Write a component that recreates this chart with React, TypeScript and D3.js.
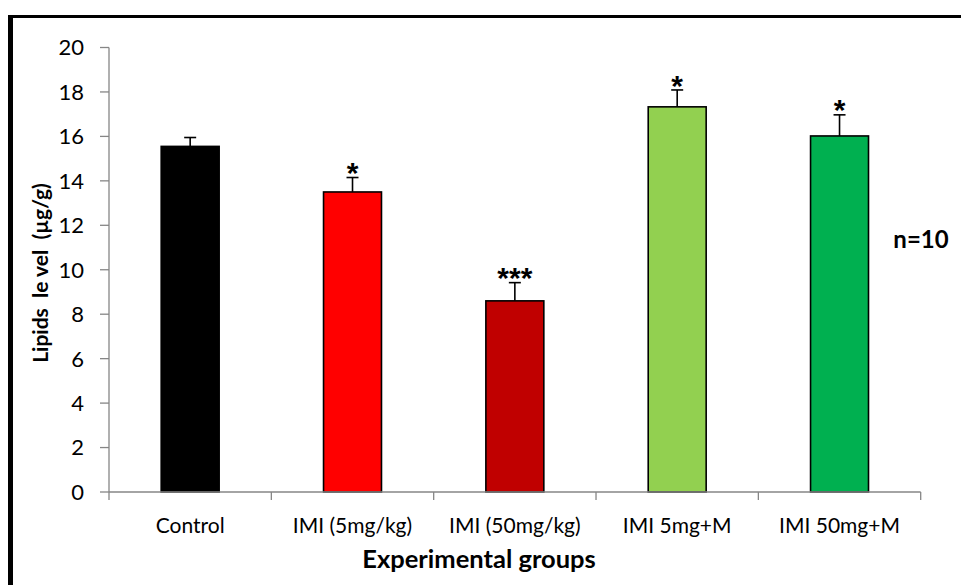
import React from "react";
import * as d3 from "d3";

const categories = ["Control", "IMI (5mg/kg)", "IMI (50mg/kg)", "IMI 5mg+M", "IMI 50mg+M"];
const means = [15.55, 13.5, 8.6, 17.33, 16.02];
const errors = [0.4, 0.65, 0.82, 0.76, 0.95];
const stars = ["", "*", "***", "*", "*"];
const colors = ["#000000", "#FF0000", "#C00000", "#92D050", "#00B050"];
const yTicks = [0, 2, 4, 6, 8, 10, 12, 14, 16, 18, 20];

const W = 961;
const H = 585;
const FONT = "Lato, 'Open Sans', sans-serif";

export default function App() {
  const y = d3.scaleLinear().domain([0, 20]).range([492, 47.5]);
  const x = d3.scaleBand<string>().domain(categories).range([109, 920.7]).padding(0);
  const bw = x.bandwidth() * 0.357;
  const axisColor = "#868686";
  return (
    <svg width={W} height={H} style={{ position: "absolute", left: 0, top: 0, background: "#fff" }}>
      <rect x={0} y={0} width={W} height={H} fill="#fff" />
      {/* frame */}
      <line x1={8} x2={W} y1={16.5} y2={16.5} stroke="#000" strokeWidth={3} />
      <line x1={10.5} x2={10.5} y1={15} y2={H} stroke="#000" strokeWidth={5} />
      {/* bars */}
      {categories.map((c, i) => {
        const cx = (x(c) as number) + x.bandwidth() / 2;
        return (
          <g key={c}>
            <line x1={cx} x2={cx} y1={y(means[i])} y2={y(means[i] + errors[i])} stroke="#000" strokeWidth={1.6} />
            <line x1={cx - 6} x2={cx + 6} y1={y(means[i] + errors[i])} y2={y(means[i] + errors[i])} stroke="#000" strokeWidth={1.6} />
            <rect x={cx - bw / 2} y={y(means[i])} width={bw} height={y(0) - y(means[i])} fill={colors[i]} stroke="#000" strokeWidth={1.6} />
            {stars[i] && (
              <text x={cx} y={y(means[i] + errors[i]) - 13} dy="0.62em" textAnchor="middle" fontFamily="'Liberation Sans', Arial, sans-serif" fontWeight="bold" fontSize={30} fill="#000">
                {stars[i]}
              </text>
            )}
          </g>
        );
      })}
      {/* y axis */}
      <line x1={109} x2={109} y1={y(20)} y2={y(0)} stroke={axisColor} strokeWidth={1.3} />
      {yTicks.map((t) => (
        <g key={t}>
          <line x1={100} x2={109} y1={y(t)} y2={y(t)} stroke={axisColor} strokeWidth={1.3} />
          <text x={84} y={y(t)} dy="0.36em" textAnchor="end" fontFamily={FONT} fontSize={22} fill="#000">
            {t}
          </text>
        </g>
      ))}
      {/* x axis */}
      <line x1={109} x2={920.7} y1={y(0)} y2={y(0)} stroke={axisColor} strokeWidth={1.3} />
      {[...categories.map((c) => x(c) as number), 920.7].map((p, i) => (
        <line key={i} x1={p} x2={p} y1={y(0)} y2={y(0) + 8} stroke={axisColor} strokeWidth={1.3} />
      ))}
      {categories.map((c) => (
        <text key={c} x={(x(c) as number) + x.bandwidth() / 2} y={533} textAnchor="middle" fontFamily={FONT} fontSize={21} fill="#000">
          {c}
        </text>
      ))}
      <text x={479} y={568} textAnchor="middle" fontFamily={FONT} fontWeight="bold" fontSize={25.5} fill="#000">
        Experimental groups
      </text>
      <text transform="translate(48,273) rotate(-90)" textAnchor="middle" fontFamily={FONT} fontWeight="bold" fontSize={21} fill="#000" style={{ whiteSpace: "pre" }}>
        {"Lipids  le vel  (µg/g)"}
      </text>
      <text x={921} y={248} textAnchor="middle" fontFamily={FONT} fontWeight="bold" fontSize={24} fill="#000">
        n=10
      </text>
    </svg>
  );
}
